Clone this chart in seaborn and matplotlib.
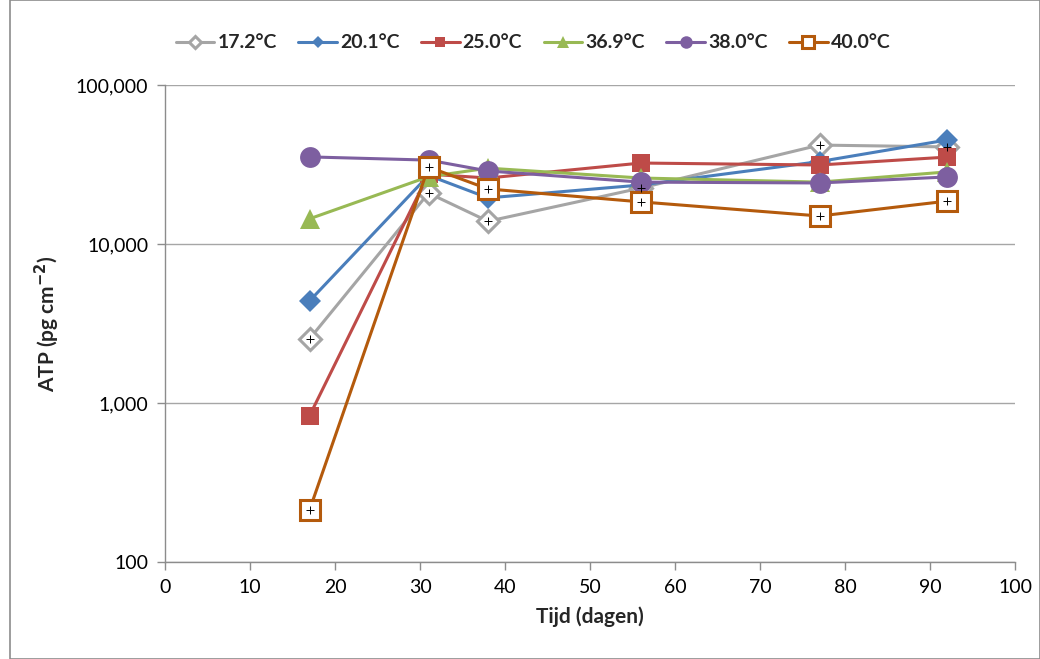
import matplotlib
matplotlib.use("Agg")
import matplotlib.pyplot as plt
import matplotlib.ticker as mticker
from matplotlib.patches import Rectangle
import pandas as pd
import seaborn as sns

# Data
days = [17, 31, 38, 56, 77, 92]
labels = ["17.2°C", "20.1°C", "25.0°C", "36.9°C", "38.0°C", "40.0°C"]
atp_172 = [2530, 20900, 13900, 22500, 41900, 40800]
atp_201 = [4380, 27000, 19500, 23500, 33000, 45100]
atp_250 = [830, 27500, 26000, 32300, 31400, 35200]
atp_369 = [14400, 26500, 30000, 26000, 24500, 28400]
atp_380 = [35300, 33700, 28800, 24500, 24200, 26400]
atp_400 = [212, 30500, 22200, 18400, 15000, 18600]
series = [atp_172, atp_201, atp_250, atp_369, atp_380, atp_400]

colors = ["#A5A5A5", "#4A7EBB", "#BE4B48", "#98B954", "#7D5FA0", "#B45A0C"]
markers = ["D", "D", "s", "^", "o", "s"]
sizes = [11, 11, 13, 14, 15, 14]
hollow = [True, False, False, False, False, True]

df = pd.concat(
    [pd.DataFrame({"dag": days, "atp": vals, "temp": lab}) for lab, vals in zip(labels, series)],
    ignore_index=True,
)

sns.set_style("white")
plt.rcParams["font.family"] = ["Lato", "DejaVu Sans"]

fig = plt.figure(figsize=(10.4, 6.59), dpi=100)
ax = fig.add_axes([165 / 1040, 1 - 562 / 659, 850 / 1040, 477 / 659])

for lab, col, mk, ms, hol in zip(labels, colors, markers, sizes, hollow):
    sub = df[df["temp"] == lab]
    sns.lineplot(data=sub, x="dag", y="atp", ax=ax, color=col, lw=2.2,
                 marker=mk, markersize=ms,
                 markerfacecolor="white" if hol else col,
                 markeredgecolor=col, markeredgewidth=2.2 if hol else 0,
                 label=lab, legend=False, zorder=3)
    if hol:
        ax.plot(sub["dag"], sub["atp"], linestyle="none", marker="+",
                color="black", markersize=6, markeredgewidth=0.7, zorder=4)

ax.set_yscale("log")
ax.set_ylim(100, 100000)
ax.set_xlim(0, 100)
ax.set_xticks(range(0, 101, 10))
ax.set_yticks([100, 1000, 10000, 100000])
ax.yaxis.set_minor_locator(mticker.NullLocator())
ax.yaxis.set_major_formatter(mticker.FuncFormatter(lambda v, p: f"{int(v):,}"))

ax.grid(axis="y", color="#A6A6A6", lw=1)
for s in ["top", "right"]:
    ax.spines[s].set_visible(False)
for s in ["left", "bottom"]:
    ax.spines[s].set_color("#8C8C8C")
    ax.spines[s].set_linewidth(1)
ax.tick_params(axis="both", which="major", length=6, width=1, color="#8C8C8C",
               direction="out", labelsize=14, labelcolor="black", pad=6,
               left=True, bottom=True)

ax.set_xlabel("Tijd (dagen)", fontsize=15, fontweight="bold", labelpad=8)
ax.set_ylabel("ATP (pg cm$^{\\mathbf{-2}}$)", fontsize=15, fontweight="bold", labelpad=10)

hs, ls = ax.get_legend_handles_labels()
fig.legend(hs, ls, loc="center", bbox_to_anchor=(533 / 1040, 1 - 43 / 659), ncol=6,
           frameon=False, prop={"size": 14, "weight": "bold"}, handlelength=2.0,
           handletextpad=0.15, columnspacing=1.1, markerscale=0.6)

fig.patches.append(Rectangle((10 / 1040, 0), 1 - 10 / 1040, 1, transform=fig.transFigure,
                             fill=False, edgecolor="#8C8C8C", lw=1.2))

fig.savefig("out.png", dpi=100)
